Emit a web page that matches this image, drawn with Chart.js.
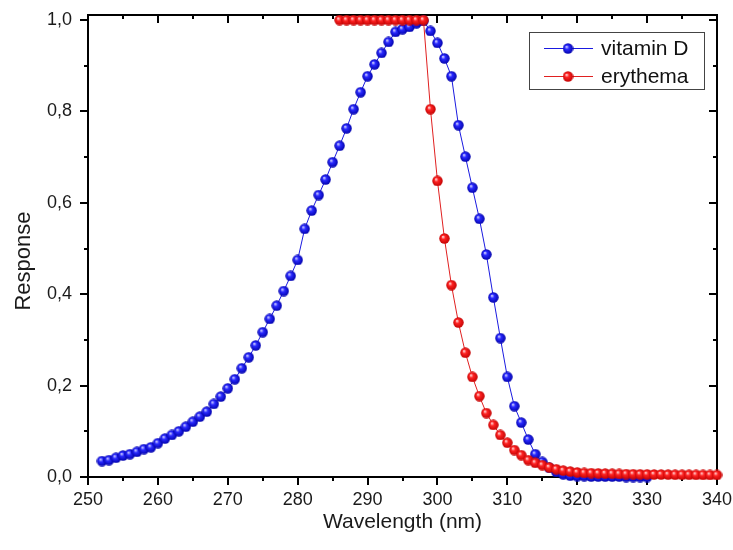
<!DOCTYPE html>
<html>
<head>
<meta charset="utf-8">
<script src="https://cdn.jsdelivr.net/npm/chart.js@4.4.1/dist/chart.umd.min.js"></script>
<style>
html, body { margin: 0; padding: 0; background: #fff; }
</style>
</head>
<body>
<canvas id="spectrumChart" width="733" height="550"></canvas>
<script>
// action spectra (1 nm steps)
var vitaminDWavelengths = [
	252, 253, 254, 255, 256, 257, 258, 259, 260, 261, 262, 263, 264, 265, 266, 267, 268, 269,
	270, 271, 272, 273, 274, 275, 276, 277, 278, 279, 280, 281, 282, 283, 284, 285, 286, 287,
	288, 289, 290, 291, 292, 293, 294, 295, 296, 297, 298, 299, 300, 301, 302, 303, 304, 305,
	306, 307, 308, 309, 310, 311, 312, 313, 314, 315, 316, 317, 318, 319, 320, 321, 322, 323,
	324, 325, 326, 327, 328, 329, 330
];
var vitaminDValues = [
	0.035, 0.037, 0.042, 0.047, 0.050, 0.055, 0.061, 0.065, 0.074, 0.084, 0.092, 0.100, 0.110,
	0.121, 0.132, 0.143, 0.160, 0.176, 0.194, 0.214, 0.238, 0.262, 0.288, 0.317, 0.346, 0.375,
	0.407, 0.440, 0.475, 0.543, 0.583, 0.617, 0.651, 0.689, 0.725, 0.763, 0.805, 0.842, 0.877,
	0.903, 0.928, 0.952, 0.974, 0.980, 0.985, 0.993, 0.998, 0.976, 0.950, 0.916, 0.877, 0.770,
	0.701, 0.633, 0.565, 0.487, 0.393, 0.304, 0.219, 0.155, 0.119, 0.082, 0.050, 0.033, 0.020,
	0.011, 0.006, 0.003, 0.002, 0.002, 0.001, 0.001, 0.001, 0.001, 0.001, 0.000, 0.000, 0.000,
	0.000
];
var erythemaWavelengths = [
	286, 287, 288, 289, 290, 291, 292, 293, 294, 295, 296, 297, 298, 299, 300, 301, 302, 303,
	304, 305, 306, 307, 308, 309, 310, 311, 312, 313, 314, 315, 316, 317, 318, 319, 320, 321,
	322, 323, 324, 325, 326, 327, 328, 329, 330, 331, 332, 333, 334, 335, 336, 337, 338, 339,
	340
];
var erythemaValues = [
	1.0, 1.0, 1.0, 1.0, 1.0, 1.0, 1.0, 1.0, 1.0, 1.0, 1.0, 1.0, 1.0, 0.805, 0.648, 0.522,
	0.420, 0.338, 0.272, 0.219, 0.177, 0.140, 0.114, 0.092, 0.075, 0.059, 0.048, 0.037, 0.031,
	0.026, 0.021, 0.017, 0.014, 0.012, 0.010, 0.009, 0.0085, 0.008, 0.0076, 0.0072, 0.0068,
	0.0065, 0.0062, 0.006, 0.0058, 0.0056, 0.0054, 0.0052, 0.005, 0.0049, 0.0048, 0.0047,
	0.0046, 0.0045, 0.0044
];
var seriesLabels = ['vitamin D', 'erythema'];
var xTicks = [250, 260, 270, 280, 290, 300, 310, 320, 330, 340];
var xMinorTicks = [255, 265, 275, 285, 295, 305, 315, 325, 335];
var yTicks = [0, 0.2, 0.4, 0.6, 0.8, 1.0];
var yMinorTicks = [0.1, 0.3, 0.5, 0.7, 0.9];
var yTitle = 'Response';

var fontFamily = "'Liberation Sans', Arial, sans-serif";

// shaded ball marker like the Origin symbols
function makeBall(light, mid, dark) {
	var c = document.createElement('canvas');
	c.width = 11;
	c.height = 11;
	var g = c.getContext('2d');
	var grad = g.createRadialGradient(3.9, 3.7, 0.2, 5.5, 5.5, 5.5);
	grad.addColorStop(0, light);
	grad.addColorStop(0.35, mid);
	grad.addColorStop(1, dark);
	g.fillStyle = grad;
	g.beginPath();
	g.arc(5.5, 5.5, 5.2, 0, Math.PI * 2);
	g.fill();
	return c;
}
var blueBall = makeBall('#dcdcff', '#2a2aff', '#0000a8');
var redBall = makeBall('#ffe4e4', '#ff2424', '#c00000');

function toPoints(xs, ys) {
	return xs.map(function(x, i) { return { x: x, y: ys[i] }; });
}

// frame with mirrored ticks (outward on left/bottom, inward on top/right)
var framePlugin = {
	id: 'frame',
	beforeDatasetsDraw: function(chart) {
		var ctx = chart.ctx, a = chart.chartArea;
		var xs = chart.scales.x, ys = chart.scales.y;
		ctx.save();
		ctx.strokeStyle = '#000';
		ctx.lineWidth = 2;
		ctx.strokeRect(a.left, a.top, a.right - a.left, a.bottom - a.top);
		ctx.beginPath();
		function xt(v, len) {
			var p = Math.round(xs.getPixelForValue(v));
			ctx.moveTo(p, a.bottom); ctx.lineTo(p, a.bottom + len);
			ctx.moveTo(p, a.top); ctx.lineTo(p, a.top + len);
		}
		function yt(v, len) {
			var p = Math.round(ys.getPixelForValue(v));
			ctx.moveTo(a.left, p); ctx.lineTo(a.left - len, p);
			ctx.moveTo(a.right, p); ctx.lineTo(a.right - len, p);
		}
		xTicks.forEach(function(v) { xt(v, 8); });
		xMinorTicks.forEach(function(v) { xt(v, 4); });
		yTicks.forEach(function(v) { yt(v, 8); });
		yMinorTicks.forEach(function(v) { yt(v, 4); });
		ctx.stroke();

		// y title, sits a little below the middle like the original
		ctx.font = '22px ' + fontFamily;
		ctx.fillStyle = '#1a1a1a';
		ctx.textAlign = 'center';
		ctx.textBaseline = 'middle';
		ctx.translate(24, (a.top + a.bottom) / 2 + 15);
		ctx.rotate(-Math.PI / 2);
		ctx.fillText(yTitle, 0, 0);
		ctx.restore();
	},
	afterDatasetsDraw: function(chart) {
		var ctx = chart.ctx, a = chart.chartArea;
		var bx = a.right - 13, by = a.top + 17;
		var w = 175, h = 57;
		ctx.save();
		ctx.fillStyle = '#fff';
		ctx.fillRect(bx - w, by, w, h);
		ctx.strokeStyle = '#444';
		ctx.lineWidth = 1;
		ctx.strokeRect(bx - w + 0.5, by + 0.5, w, h);
		ctx.font = '21px ' + fontFamily;
		ctx.textBaseline = 'middle';
		ctx.fillStyle = '#111';
		chart.data.datasets.forEach(function(ds, i) {
			var ry = by + 16 + i * 28;
			var lx = bx - w + 15;
			ctx.strokeStyle = ds.borderColor;
			ctx.beginPath();
			ctx.moveTo(lx, ry + 0.5);
			ctx.lineTo(lx + 49, ry + 0.5);
			ctx.stroke();
			ctx.drawImage(ds.pointStyle, lx + 24 - 5.5, ry - 5);
			ctx.fillText(ds.label, lx + 57, ry + 1);
		});
		ctx.restore();
	}
};

var config = {
	type: 'line',
	data: {
		datasets: [{
			label: seriesLabels[0],
			data: toPoints(vitaminDWavelengths, vitaminDValues),
			borderColor: '#1a1ae0',
			borderWidth: 1,
			pointStyle: blueBall,
			pointRadius: 5.5,
			order: 1,
			clip: 8
		}, {
			label: seriesLabels[1],
			data: toPoints(erythemaWavelengths, erythemaValues),
			borderColor: '#e02020',
			borderWidth: 1,
			pointStyle: redBall,
			pointRadius: 5.5,
			order: 0,
			clip: 8
		}]
	},
	options: {
		responsive: false,
		animation: false,
		layout: {
			padding: { left: 0, top: 15, right: 16, bottom: 0 }
		},
		plugins: {
			legend: { display: false },
			tooltip: { enabled: false }
		},
		scales: {
			x: {
				type: 'linear',
				min: 250,
				max: 340,
				grid: { display: false, drawTicks: false },
				border: { display: false },
				afterBuildTicks: function(s) {
					s.ticks = xTicks.map(function(v) { return { value: v }; });
				},
				afterFit: function(s) {
					s.height = 73;
					s.paddingLeft = 0;
					s.paddingRight = 0;
				},
				ticks: {
					padding: 12,
					color: '#1a1a1a',
					maxRotation: 0,
					font: { family: fontFamily, size: 18 }
				},
				title: {
					display: true,
					text: 'Wavelength (nm)',
					color: '#1a1a1a',
					padding: { top: 0, bottom: 15 },
					font: { family: fontFamily, size: 21 }
				}
			},
			y: {
				min: 0,
				max: 1.011,
				grid: { display: false, drawTicks: false },
				border: { display: false },
				afterBuildTicks: function(s) {
					s.ticks = yTicks.map(function(v) { return { value: v }; });
				},
				afterFit: function(s) {
					s.width = 88;
					s.paddingTop = 0;
					s.paddingBottom = 0;
				},
				ticks: {
					padding: 16,
					color: '#1a1a1a',
					font: { family: fontFamily, size: 18 },
					callback: function(v) { return v.toFixed(1).replace('.', ','); }
				},
				title: { display: false }
			}
		}
	},
	plugins: [framePlugin]
};

window.onload = function() {
	var ctx = document.getElementById('spectrumChart').getContext('2d');
	window.spectrumChart = new Chart(ctx, config);
};
</script>
</body>
</html>
